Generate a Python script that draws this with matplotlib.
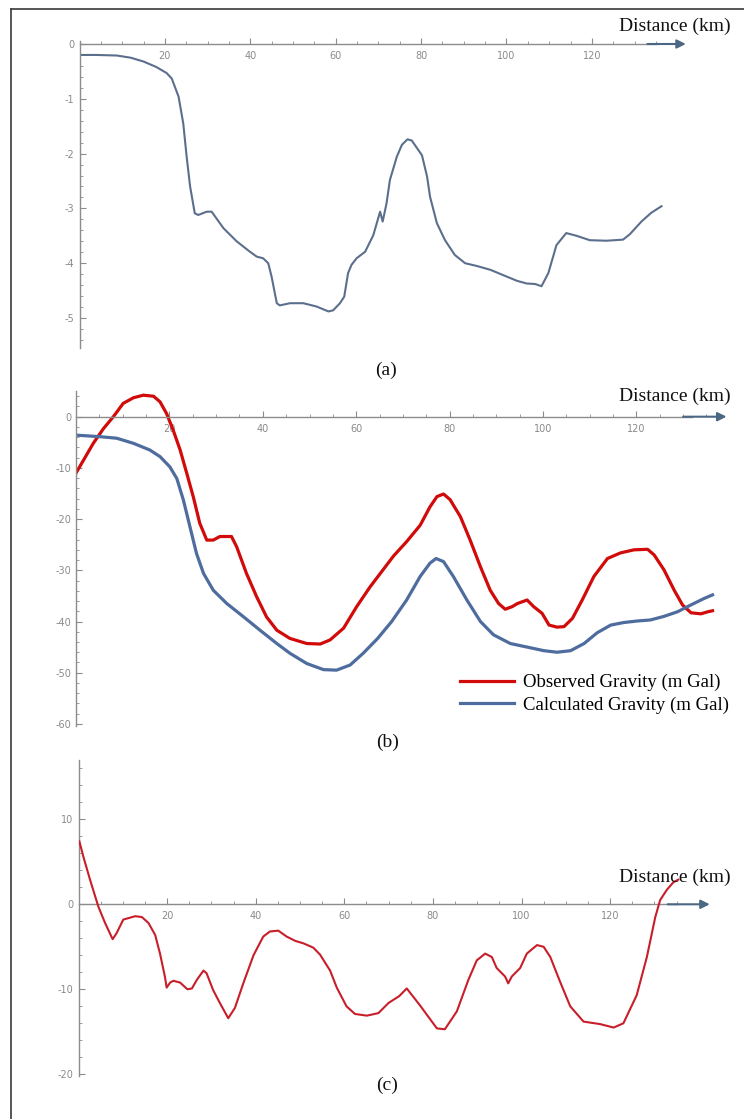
import numpy as np
import matplotlib
matplotlib.use('Agg')
import matplotlib.pyplot as plt
from matplotlib.lines import Line2D
from matplotlib.ticker import MultipleLocator

plt.rcParams['axes.unicode_minus'] = False

# ---- data ----
# (a) depth profile
a_x = [0, 4, 8.7, 12, 15, 18, 20.4, 21.6, 23.2, 24.3, 25.1, 25.9, 27.0, 27.8, 29.8, 30.95, 33.7, 36.8, 39.9, 41.5,
       43.0, 44.2, 45.0, 46.2, 46.9, 49.3, 52.4, 55.5, 58.3, 59.4, 61.0, 62.0, 62.9, 63.7, 64.9, 66.9, 68.8, 70.4, 71.0, 71.9,
       72.7, 74.3, 75.5, 76.8, 77.8, 80.2, 81.4, 82.1, 83.7, 85.6, 87.9, 90.3, 93.0, 96.2, 99.3, 102.4, 104.7, 106.7, 108.2, 109.8,
       111.7, 114.0, 116.4, 119.5, 123.4, 127.3, 128.9, 131.6, 133.9, 136.3]
a_y = [-0.2, -0.2, -0.21, -0.25, -0.32, -0.42, -0.53, -0.63, -0.96, -1.45, -2.06, -2.6, -3.09, -3.12, -3.06, -3.06, -3.36, -3.6, -3.79, -3.88,
       -3.91, -4.0, -4.25, -4.73, -4.77, -4.73, -4.73, -4.79, -4.88, -4.86, -4.73, -4.61, -4.18, -4.03, -3.91, -3.79, -3.49, -3.06, -3.24, -2.91,
       -2.48, -2.06, -1.84, -1.74, -1.76, -2.03, -2.42, -2.79, -3.27, -3.58, -3.85, -4.0, -4.05, -4.12, -4.22, -4.32, -4.37, -4.38, -4.42, -4.18,
       -3.67, -3.45, -3.5, -3.58, -3.59, -3.57, -3.47, -3.24, -3.08, -2.96]

# (b) observed / calculated gravity
obs_x = [0, 1.6, 3.7, 5.9, 8.0, 10.1, 12.3, 14.4, 16.6, 18.0, 19.4, 20.8, 22.3, 23.7, 25.1, 26.5, 28.0, 29.4, 30.8, 33.3,
         34.4, 36.5, 38.7, 40.8, 43.0, 45.8, 49.4, 52.3, 54.4, 57.3, 60.1, 63.0, 65.5, 68.0, 70.8, 73.7, 75.8, 77.3, 78.7, 80.1,
         82.3, 84.4, 86.6, 88.7, 90.5, 91.9, 93.4, 94.5, 96.6, 98.0, 99.8, 101.3, 103.0, 104.5, 106.3, 108.4, 110.9, 113.8, 116.6, 119.5,
         122.4, 123.8, 125.9, 128.1, 129.9, 131.7, 133.8, 135.3, 136.3]
obs_y = [-11.0, -8.5, -5.2, -2.3, 0.0, 2.6, 3.7, 4.2, 4.0, 2.9, 0.6, -2.6, -6.5, -11.0, -15.6, -20.8, -24.1, -24.1, -23.4, -23.4,
         -25.4, -30.6, -35.2, -39.1, -41.7, -43.3, -44.3, -44.4, -43.6, -41.3, -37.1, -33.2, -30.2, -27.2, -24.4, -21.2, -17.6, -15.6, -15.1, -16.2,
         -19.5, -24.1, -29.3, -33.9, -36.5, -37.6, -37.1, -36.5, -35.8, -37.1, -38.4, -40.7, -41.1, -41.0, -39.4, -35.8, -31.2, -27.7, -26.6, -26.0,
         -25.9, -27.0, -29.9, -33.9, -36.8, -38.3, -38.5, -38.1, -37.9]
cal_x = [0, 5.1, 8.7, 12.3, 15.8, 18.0, 20.1, 21.6, 23.0, 24.4, 25.8, 27.3, 29.4, 32.3, 35.9, 39.4, 43.0, 45.8, 49.4, 53.0,
         55.8, 58.7, 61.5, 64.6, 67.6, 70.8, 73.7, 75.8, 77.1, 78.7, 80.8, 83.7, 86.6, 89.4, 93.0, 96.6, 100.2, 103.0, 105.9, 108.8,
         111.6, 114.5, 117.3, 120.2, 123.0, 125.9, 128.8, 131.6, 134.5, 136.3]
cal_y = [-3.6, -3.9, -4.2, -5.2, -6.5, -7.8, -9.8, -12.1, -16.3, -21.5, -26.7, -30.6, -33.9, -36.5, -39.1, -41.7, -44.3, -46.2, -48.2, -49.4,
         -49.5, -48.5, -46.2, -43.3, -40.0, -35.8, -31.2, -28.6, -27.7, -28.3, -31.2, -35.8, -40.0, -42.6, -44.3, -45.0, -45.7, -46.0, -45.7, -44.3,
         -42.2, -40.7, -40.2, -39.9, -39.7, -39.0, -38.1, -36.8, -35.5, -34.8]

# (c) residual
res_x = [0.2, 1.1, 2.6, 4.5, 6.0, 7.7, 8.6, 10.1, 12.8, 14.3, 15.8, 17.3, 18.4, 19.5, 19.9, 20.7, 21.4, 22.9, 24.6, 25.6,
         26.7, 28.2, 28.9, 30.4, 31.9, 33.8, 35.3, 37.2, 39.5, 41.7, 43.2, 45.1, 47.0, 48.9, 50.8, 53.0, 54.5, 56.8, 58.3, 60.5,
         62.4, 65.1, 67.7, 70.0, 72.4, 74.1, 77.1, 80.9, 82.7, 85.4, 88.0, 89.9, 91.8, 93.3, 94.4, 96.3, 97.0, 97.8, 99.7, 101.2,
         103.5, 105.0, 106.5, 108.7, 111.0, 114.0, 117.8, 120.8, 123.0, 126.0, 128.3, 130.2, 131.3, 132.8, 134.3, 135.4]
res_y = [7.4, 5.6, 2.9, -0.3, -2.2, -4.1, -3.4, -1.8, -1.4, -1.5, -2.2, -3.6, -5.8, -8.5, -9.8, -9.2, -9.0, -9.2, -10.0, -9.9,
         -8.9, -7.8, -8.1, -10.1, -11.6, -13.4, -12.2, -9.3, -6.0, -3.8, -3.2, -3.1, -3.8, -4.3, -4.6, -5.1, -5.9, -7.8, -9.8, -12.0,
         -12.9, -13.1, -12.8, -11.6, -10.8, -9.9, -11.9, -14.6, -14.7, -12.6, -8.9, -6.6, -5.8, -6.2, -7.5, -8.5, -9.3, -8.5, -7.5, -5.8,
         -4.8, -5.0, -6.2, -9.1, -12.0, -13.8, -14.1, -14.5, -14.0, -10.7, -6.2, -1.5, 0.5, 1.7, 2.6, 2.9]

W, H = 744, 1119
fig = plt.figure(figsize=(W / 100, H / 100), dpi=100)
SERIF = ['Liberation Serif', 'DejaVu Serif']


def make_axes(x0, sx, xmax, y0, sy, ytop, ybot):
    # pixel mapping -> figure fraction rect
    left = x0 / W
    width = xmax * sx / W
    top = y0 - ytop * sy
    bottom = y0 - ybot * sy
    ax = fig.add_axes([left, 1 - bottom / H, width, (bottom - top) / H])
    ax.set_xlim(0, xmax)
    ax.set_ylim(ybot, ytop)
    return ax


def style(ax, xend, xmax, ymaj, ymin_):
    for s in ['top', 'right']:
        ax.spines[s].set_visible(False)
    ax.spines['bottom'].set_position(('data', 0))
    ax.spines['bottom'].set_bounds(0, xend)
    for s in ['left', 'bottom']:
        ax.spines[s].set_color('#8c8c8c')
        ax.spines[s].set_linewidth(1.0)
    ax.set_xticks([20, 40, 60, 80, 100, 120])
    ax.xaxis.set_minor_locator(MultipleLocator(5))
    ax.yaxis.set_major_locator(MultipleLocator(ymaj))
    ax.yaxis.set_minor_locator(MultipleLocator(ymin_))
    ax.tick_params(which='both', direction='in', colors='#8c8c8c', labelcolor='#8a8a8a', labelsize=7)
    ax.tick_params(which='major', length=4, width=0.8)
    ax.tick_params(which='minor', length=2, width=0.6)
    ax.tick_params(axis='x', pad=5)
    ax.set_xlim(0, xmax)
    ax.annotate('', xy=(xmax, 0), xytext=(xend - 2, 0),
                arrowprops=dict(arrowstyle='-|>', color='#4b6783', lw=1.5, mutation_scale=13,
                                shrinkA=0, shrinkB=0),
                annotation_clip=False)
    ax.set_facecolor('none')


# (a)
ax1 = make_axes(79.5, 4.27, 142, 44, 54.8, 0.05, -5.55)
ax1.plot(a_x, a_y, color='#5b6f8c', lw=1.5)
style(ax1, 135, 142, 1, 0.2)
ax1.set_yticks([0, -1, -2, -3, -4, -5])

# (b)
ax2 = make_axes(76, 4.67, 139.3, 416.7, 5.12, 5, -60.5)
l_obs, = ax2.plot(obs_x, obs_y, color='#d10a0a', lw=2.3, label='Observed Gravity (m Gal)')
l_cal, = ax2.plot(cal_x, cal_y, color='#4e6c9e', lw=2.3, label='Calculated Gravity (m Gal)')
style(ax2, 132, 139.3, 10, 2)
ax2.set_yticks([0, -10, -20, -30, -40, -50, -60])
ax2.legend(handles=[l_obs, l_cal], loc='upper left', bbox_to_anchor=(460 / W, 1 - 674 / H),
           bbox_transform=fig.transFigure, frameon=False, borderpad=0, borderaxespad=0,
           handlelength=2.9, handletextpad=0.45, labelspacing=0.28,
           prop={'family': SERIF, 'size': 13.5})

# (c)
ax3 = make_axes(78.5, 4.43, 142.5, 904.3, 8.5, 17, -20.2)
ax3.plot(res_x, res_y, color='#c81e2a', lw=1.5, zorder=5)
style(ax3, 135, 142.5, 10, 2)
ax3.set_yticks([10, 0, -10, -20])

# axis titles and panel labels
for yy in [26, 396, 877]:
    fig.text(675 / W, 1 - yy / H, 'Distance (km)', ha='center', va='center',
             family=SERIF, fontsize=14, color='#111111', zorder=1)
for lab, (px, py) in [('(a)', (386, 370)), ('(b)', (388, 742)), ('(c)', (387, 1085))]:
    fig.text(px / W, 1 - py / H, lab, ha='center', va='center', family=SERIF, fontsize=14, color='#111111')

# page border
fig.add_artist(Line2D([11 / W, 11 / W], [0, 1 - 9 / H], transform=fig.transFigure, color='#3a3a3a', lw=1.2))
fig.add_artist(Line2D([11 / W, 1], [1 - 9 / H, 1 - 9 / H], transform=fig.transFigure, color='#3a3a3a', lw=1.2))

fig.savefig('out.png', dpi=100)
